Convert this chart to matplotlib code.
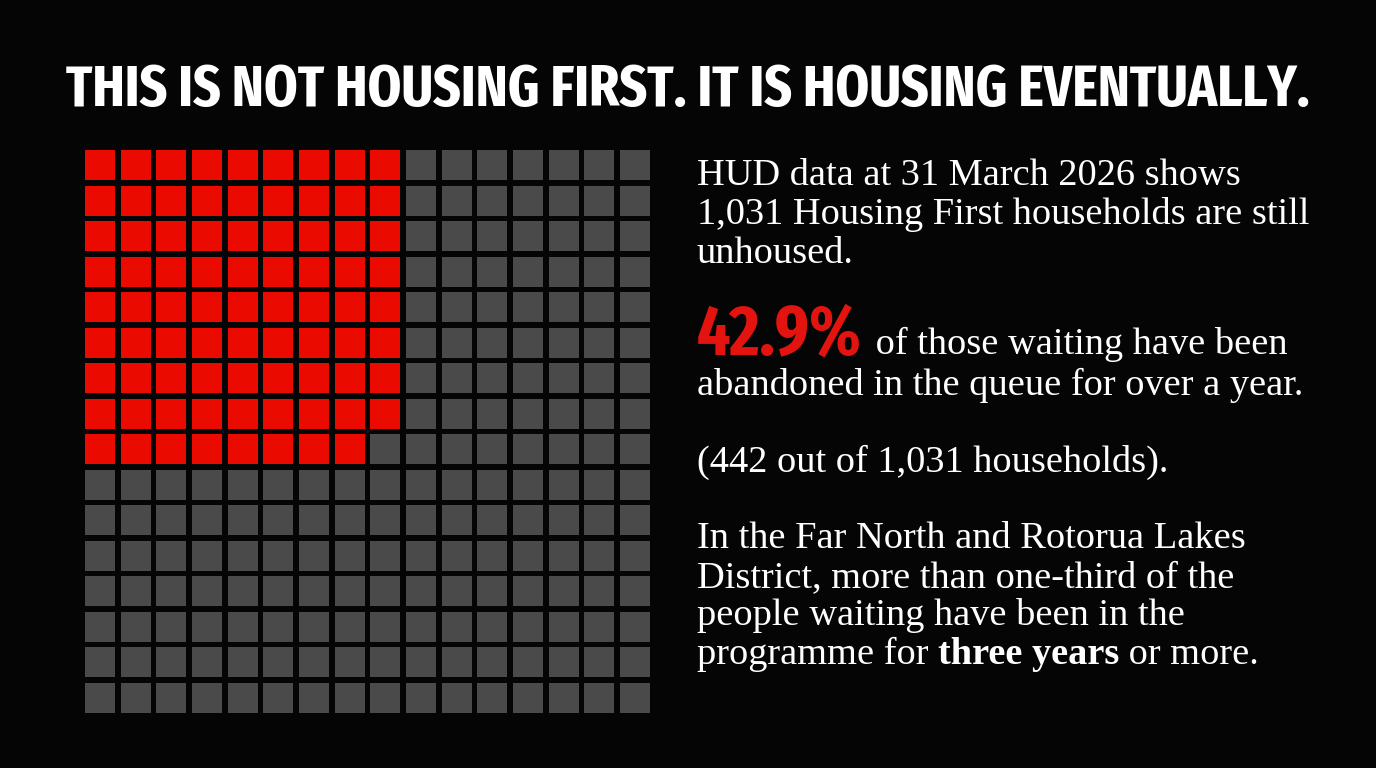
import numpy as np, matplotlib
matplotlib.use("Agg"); import matplotlib.pyplot as plt
from matplotlib import font_manager as fm

# waffle grid: 16 x 16 cells, red cells per row
N_ROWS, N_COLS = 16, 16
red_per_row = [9, 9, 9, 9, 9, 9, 9, 9, 8, 0, 0, 0, 0, 0, 0, 0]

TITLE = "THIS IS NOT HOUSING FIRST. IT IS HOUSING EVENTUALLY."
intro = ["HUD data at 31 March 2026 shows",
         "1,031 Housing First households are still",
         "unhoused."]
pct_big = "42.9%"
pct_rest = [" of those waiting have been",
            "abandoned in the queue for over a year."]
count_line = "(442 out of 1,031 households)."
region = ["In the Far North and Rotorua Lakes",
          "District, more than one-third of the",
          "people waiting have been in the"]
last_pre, last_bold, last_post = "programme for ", "three years", " or more."

BG = "#050505"; RED = "#EA0A00"; RED_TXT = "#E3140F"; GRAY = "#4A4A4A"; INK = "white"
W, H = 1376, 768
SERIF = ["Liberation Serif", "DejaVu Serif"]
FS = 27.6

def pick_condensed():
    # narrowest bold upright face that is installed (judged by file name)
    def rank(fn):
        fn = fn.lower().replace("-", "").replace("_", "")
        if "italic" in fn or "oblique" in fn:
            return None
        if "extracondensed" in fn or "ultracondensed" in fn:
            return 0
        if "semicondensed" in fn:
            return 3
        if "condensed" in fn or "narrow" in fn:
            return 2 if "dejavu" in fn else 1
        return None
    best, key = None, None
    for f in fm.fontManager.ttflist:
        rk = rank(f.fname)
        w = f.weight if isinstance(f.weight, int) else (700 if "bold" in str(f.weight).lower() else 400)
        if rk is None or f.style != "normal" or w < 600 or w > 800:
            continue
        k = (rk, abs(w - 700), f.fname)
        if key is None or k < key:
            best, key = f.fname, k
    if best:
        return fm.FontProperties(fname=best)
    return fm.FontProperties(family=["Liberation Sans", "DejaVu Sans"], weight="bold")

COND = pick_condensed()

fig = plt.figure(figsize=(W/100, H/100), dpi=100, facecolor=BG)
fx = lambda x: x / W
fy = lambda y: 1 - y / H
rend = fig.canvas.get_renderer()

def fit(t, width_px):
    # scale font so the text spans the reference width
    bb = t.get_window_extent(rend)
    t.set_fontsize(t.get_fontsize() * width_px / bb.width)

# waffle
s = 0.845
ax = fig.add_axes([fx(85), fy(713), fx(650) - fx(85), fy(150) - fy(713)])
ax.set_facecolor(BG)
cols = np.arange(N_COLS)
for r, nred in enumerate(red_per_row):
    colors = [RED if c < nred else GRAY for c in cols]
    ax.bar(cols, s, width=s, bottom=r, align="edge", color=colors, lw=0)
ax.set_xlim(0, N_COLS - 1 + s); ax.set_ylim(N_ROWS - 1 + s, 0)
ax.axis("off")

# title
tt = fig.text(fx(688), fy(106), TITLE, ha="center", va="baseline", color=INK,
              fontproperties=COND.copy())
tt.set_fontsize(40)
fit(tt, 1240)

# right-hand text
X0 = fx(697)
for txt, yb in zip(intro, [185, 224, 263]):
    fig.text(X0, fy(yb), txt, color=INK, fontsize=FS, family=SERIF, va="baseline")

t_big = fig.text(X0, fy(354), pct_big, color=RED_TXT, fontproperties=COND.copy(),
                 va="baseline")
t_big.set_fontsize(50)
fit(t_big, 165)
fig.canvas.draw()
ax.annotate(pct_rest[0], xy=(1, fy(354)), xycoords=(t_big, "figure fraction"),
            xytext=(3, 0), textcoords="offset points",
            color=INK, fontsize=FS, family=SERIF, va="baseline", ha="left",
            annotation_clip=False)
fig.text(X0, fy(395), pct_rest[1], color=INK, fontsize=FS, family=SERIF, va="baseline")

fig.text(X0, fy(472), count_line, color=INK, fontsize=FS, family=SERIF, va="baseline")

for txt, yb in zip(region, [548, 587, 625]):
    fig.text(X0, fy(yb), txt, color=INK, fontsize=FS, family=SERIF, va="baseline")
t_pre = fig.text(X0, fy(664), last_pre, color=INK, fontsize=FS, family=SERIF, va="baseline")
t_b = ax.annotate(last_bold, xy=(1, fy(664)), xycoords=(t_pre, "figure fraction"),
                  color=INK, fontsize=FS, family=SERIF, fontweight="bold",
                  va="baseline", ha="left", annotation_clip=False)
ax.annotate(last_post, xy=(1, fy(664)), xycoords=(t_b, "figure fraction"),
            color=INK, fontsize=FS, family=SERIF, va="baseline", ha="left",
            annotation_clip=False)

fig.savefig("out.png", dpi=100, facecolor=BG)
